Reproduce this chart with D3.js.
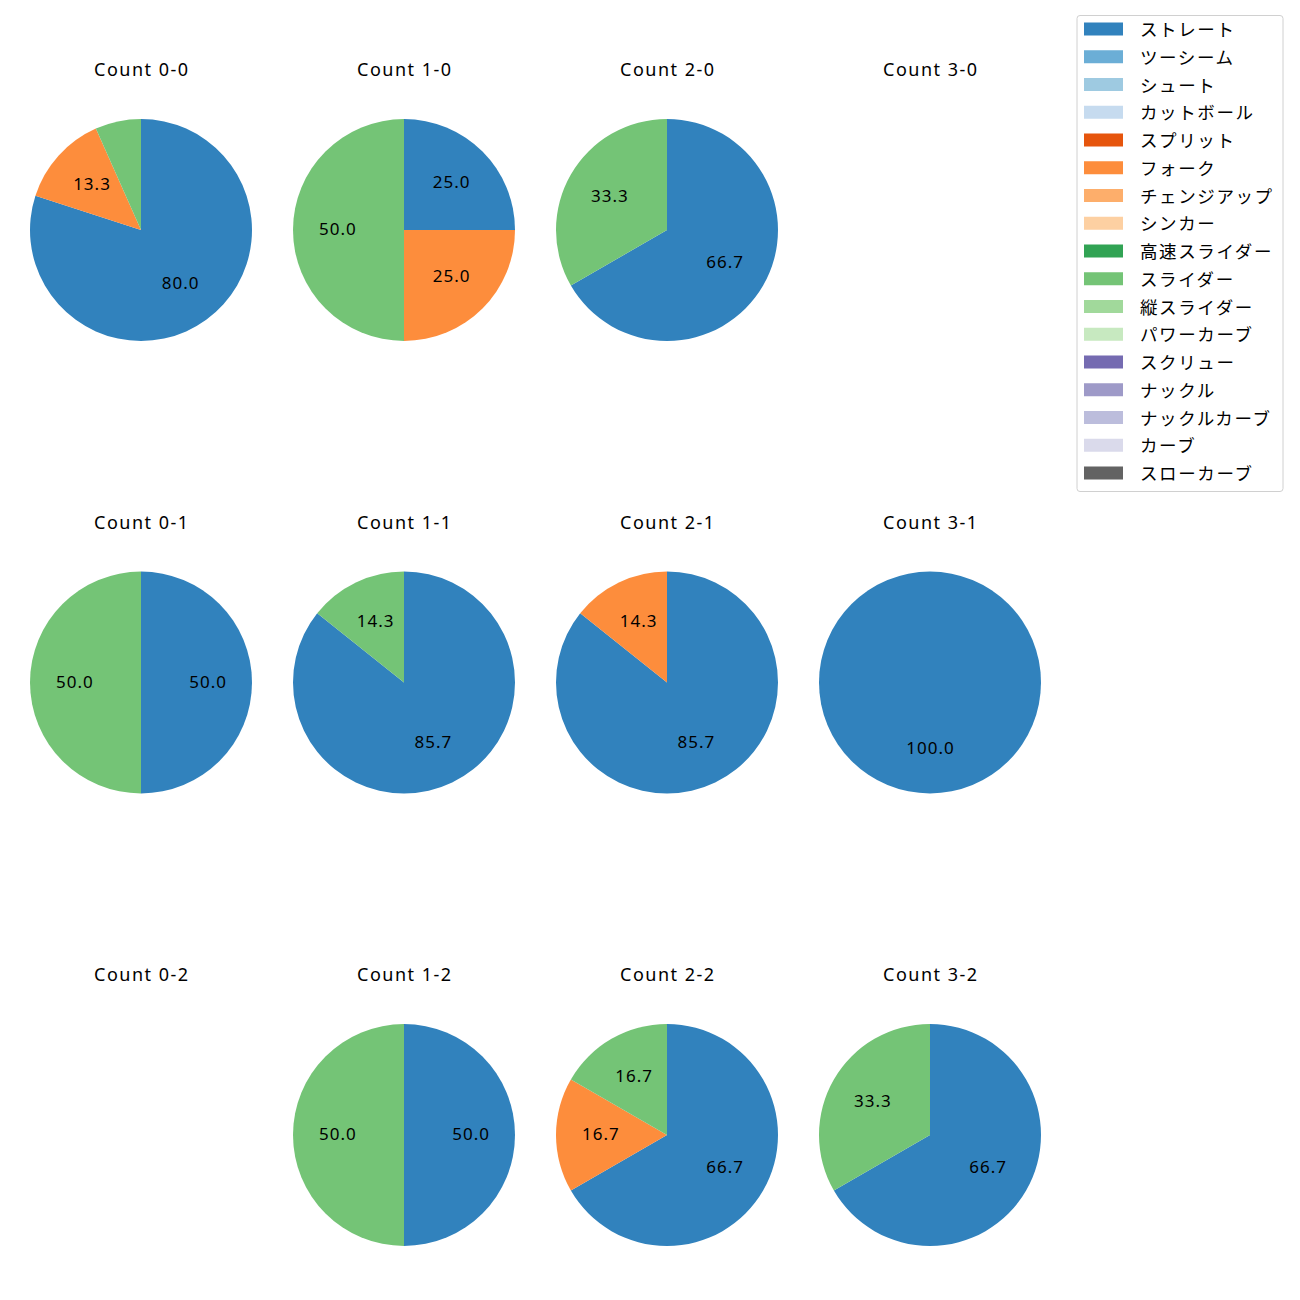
<!DOCTYPE html>
<html><head><meta charset="utf-8">
<script src="https://cdn.jsdelivr.net/npm/d3@7"></script>
<style>body{margin:0;background:#fff}svg{font-family:"Noto Sans","Noto Sans CJK JP",sans-serif}</style>
</head><body>
<svg id="c" width="1300" height="1300"></svg>
<script>
const pitchTypes = ["ストレート","ツーシーム","シュート","カットボール","スプリット","フォーク","チェンジアップ","シンカー","高速スライダー","スライダー","縦スライダー","パワーカーブ","スクリュー","ナックル","ナックルカーブ","カーブ","スローカーブ"];
const pitchColors = ["#3182bd","#6baed6","#9ecae1","#c6dbef","#e6550d","#fd8d3c","#fdae6b","#fdd0a2","#31a354","#74c476","#a1d99b","#c7e9c0","#756bb1","#9e9ac8","#bcbddc","#dadaeb","#636363"];
const countLabels = ["Count 0-0","Count 1-0","Count 2-0","Count 3-0","Count 0-1","Count 1-1","Count 2-1","Count 3-1","Count 0-2","Count 1-2","Count 2-2","Count 3-2"];
// counts per pitch type
const straightVals = [12, 1, 2, 0, 1, 6, 6, 1, 0, 1, 4, 2];
const forkVals     = [2, 1, 0, 0, 0, 0, 1, 0, 0, 0, 1, 0];
const sliderVals   = [1, 2, 1, 0, 1, 1, 0, 0, 0, 1, 1, 1];

const svg = d3.select("#c");
const color = d3.scaleOrdinal().domain(pitchTypes).range(pitchColors);
const colX = d3.scalePoint().domain([0,1,2,3]).range([141, 930]);
const rowY = d3.scalePoint().domain([0,1,2]).range([230, 1135]);
const R = 111;
const pie = d3.pie().sort(null).value(d => d.v).startAngle(0).endAngle(2*Math.PI);
const arc = d3.arc().innerRadius(0).outerRadius(R);
const labelArc = d3.arc().innerRadius(R*0.6).outerRadius(R*0.6);

countLabels.forEach((lab, i) => {
  const cx = colX(i % 4), cy = rowY(Math.floor(i / 4));
  const g = svg.append("g").attr("transform", `translate(${cx},${cy})`);
  g.append("text").attr("x", 0.8).attr("y", -161).attr("text-anchor", "middle")
    .attr("dominant-baseline", "central").attr("font-size", 18).attr("letter-spacing", 1.5)
    .attr("fill", "#000").text(lab);
  const data = [
    {k: "ストレート", v: straightVals[i]},
    {k: "フォーク", v: forkVals[i]},
    {k: "スライダー", v: sliderVals[i]}
  ].filter(d => d.v > 0);
  const total = d3.sum(data, d => d.v);
  if (total === 0) return;
  const arcs = pie(data);
  g.selectAll("path").data(arcs).join("path").attr("d", arc).attr("fill", d => color(d.data.k));
  g.selectAll("text.l").data(arcs.filter(d => d.data.v / total * 100 >= 10)).join("text")
    .attr("class", "l")
    .attr("transform", d => { const c = labelArc.centroid(d); return `translate(${c[0] + 0.5},${c[1] - 1.5})`; })
    .attr("text-anchor", "middle").attr("dominant-baseline", "central")
    .attr("font-size", 17).attr("letter-spacing", 1)
    .attr("fill", "#000")
    .text(d => (d.data.v / total * 100).toFixed(1));
});

// legend
const lg = svg.append("g");
lg.append("rect").attr("x", 1077).attr("y", 15.5).attr("width", 206).attr("height", 476)
  .attr("rx", 3).attr("fill", "#fff").attr("stroke", "#d0d0d0").attr("stroke-width", 1);
const ly = d3.scaleLinear().domain([0, pitchTypes.length - 1]).range([29, 473]);
pitchTypes.forEach((p, j) => {
  lg.append("rect").attr("x", 1084).attr("y", ly(j) - 6.5).attr("width", 39).attr("height", 13).attr("fill", color(p));
  lg.append("text").attr("x", 1140).attr("y", ly(j)).attr("dominant-baseline", "central")
    .attr("font-size", 17.5).attr("letter-spacing", 1.6).attr("fill", "#000").text(p);
});
</script>
</body></html>
